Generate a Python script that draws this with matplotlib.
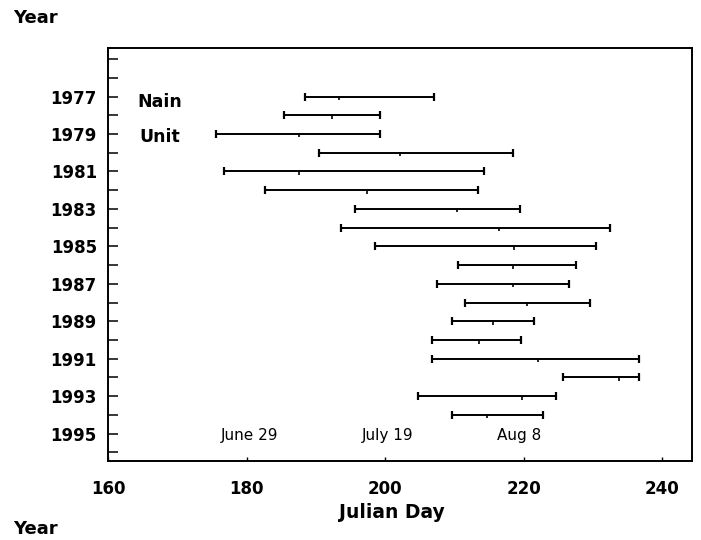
import matplotlib
matplotlib.use("Agg")
import matplotlib.pyplot as plt
import numpy as np

years = [1977, 1978, 1979, 1980, 1981, 1982, 1983, 1984, 1985,
         1986, 1987, 1988, 1989, 1990, 1991, 1992, 1993, 1994]
start_day = [188.4, 185.4, 175.6, 190.5, 176.8, 182.6, 195.6, 193.7, 198.6,
             210.5, 207.5, 211.5, 209.6, 206.7, 206.7, 225.7, 204.8, 209.7]
end_day = [207.1, 199.2, 199.2, 218.4, 214.3, 213.4, 219.4, 232.5, 230.5,
           227.6, 226.6, 229.6, 221.5, 219.6, 236.7, 236.7, 224.7, 222.8]
mid_day = [193.3, 192.4, 187.5, 202.2, 187.5, 197.4, 210.4, 216.5, 218.6,
           218.5, 218.5, 220.5, 215.6, 213.6, 222.0, 233.7, 219.8, 214.7]

date_labels = ["June 29", "July 19", "Aug 8"]
date_days = [180.5, 200.3, 219.3]

xticks = [160, 180, 200, 220, 240]
ytick_labels = list(range(1977, 1996, 2))
yminor = list(range(1975, 1997))

fig = plt.figure(figsize=(7.01, 5.40), dpi=100)
ax = fig.add_axes([108/701, 1-461/540, (692-108)/701, (461-48)/540])

for y, s, e, m in zip(years, start_day, end_day, mid_day):
    ax.plot([s, e], [y, y], color="black", lw=1.4, solid_capstyle="butt")
    ax.plot([s, e], [y, y], ls="none", marker="|", ms=6, mew=1.6, color="black")
    ax.plot([m], [y + 0.08], ls="none", marker="|", ms=3, mew=1.2, color="black")

ax.set_xlim(160, 244.3)
ax.set_ylim(1996.46, 1974.41)

ax.set_xticks(xticks)
ax.set_xticklabels([str(v) for v in xticks], fontsize=12, fontweight="bold")
ax.tick_params(axis="x", direction="in", length=3, width=1, pad=14)

ax.set_yticks(yminor)
ax.set_yticklabels([str(v) if v in ytick_labels else "" for v in yminor],
                   fontsize=12, fontweight="bold")
ax.tick_params(axis="y", direction="in", length=7, width=1.1, pad=8)

for sp in ax.spines.values():
    sp.set_linewidth(1.4)

for lab, d in zip(date_labels, date_days):
    ax.text(d, 1995.1, lab, ha="center", va="center", fontsize=11)

ax.text(164.2, 1977.3, "Nain", ha="left", va="center", fontsize=12.5, fontweight="bold")
ax.text(164.6, 1979.15, "Unit", ha="left", va="center", fontsize=12.5, fontweight="bold")

fig.text(13/701, 1-18/540, "Year", ha="left", va="center", fontsize=13, fontweight="bold")
fig.text(392/701, 1-512/540, "Julian Day", ha="center", va="center", fontsize=13.5, fontweight="bold")
fig.text(13/701, 1-538/540, "Year", ha="left", va="bottom", fontsize=13, fontweight="bold")

fig.savefig("out.png", dpi=100)
